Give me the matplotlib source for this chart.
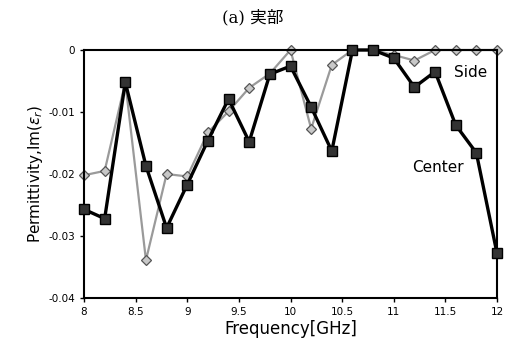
import matplotlib.pyplot as plt

plt.rcParams['font.family'] = ['DejaVu Sans', 'Noto Sans CJK JP']

freq = [8.0, 8.2, 8.4, 8.6, 8.8, 9.0, 9.2, 9.4, 9.6, 9.8, 10.0,
        10.2, 10.4, 10.6, 10.8, 11.0, 11.2, 11.4, 11.6, 11.8, 12.0]
center = [-0.0257, -0.0272, -0.0052, -0.0187, -0.0287, -0.0217, -0.0146,
          -0.0079, -0.0148, -0.0039, -0.0026, -0.0092, -0.0163, 0.0, 0.0,
          -0.0013, -0.0060, -0.0035, -0.0121, -0.0166, -0.0328]
side = [-0.0202, -0.0195, -0.0052, -0.0339, -0.0200, -0.0204, -0.0133,
        -0.0099, -0.0061, -0.0038, 0.0, -0.0127, -0.0024, 0.0, 0.0,
        -0.0008, -0.0017, 0.0, 0.0, 0.0, 0.0]

xticks = [8, 8.5, 9, 9.5, 10, 10.5, 11, 11.5, 12]
xticklabels = ['8', '8.5', '9', '9.5', '10', '10.5', '11', '11.5', '12']
yticks = [0, -0.01, -0.02, -0.03, -0.04]
yticklabels = ['0', '-0.01', '-0.02', '-0.03', '-0.04']

fig = plt.figure(figsize=(5.09, 3.47), dpi=100)
ax = fig.add_axes([84/509, 1 - 298/347, 413/509, 248/347])

# Side: thin grey line with open diamonds
ax.plot(freq, side, color='#9a9a9a', lw=1.6, marker='D', ms=5,
        mfc='#c8c8c8', mec='#555555', mew=0.9, zorder=2, clip_on=False)
# Center: thick black line with dark squares
ax.plot(freq, center, color='black', lw=2.4, marker='s', ms=7,
        mfc='#333333', mec='black', mew=1.0, zorder=3, clip_on=False)

ax.text(11.74, -0.0037, 'Side', fontsize=11, ha='center', va='center')
ax.text(11.43, -0.0190, 'Center', fontsize=11, ha='center', va='center')

ax.set_xlim(8, 12)
ax.set_ylim(-0.04, 0)
ax.set_xticks(xticks)
ax.set_xticklabels(xticklabels)
ax.set_yticks(yticks)
ax.set_yticklabels(yticklabels)
ax.tick_params(labelsize=7.5, length=3, width=1, direction='out')
for s in ax.spines.values():
    s.set_linewidth(1.5)

ax.set_xlabel('Frequency[GHz]', fontsize=12, labelpad=2)
ax.set_ylabel(r'Permittivity,Im($\varepsilon_r$)', fontsize=11, labelpad=2)
fig.text(253/509, 1 - 18/347, '(a) 実部', fontsize=12, ha='center', va='center',
         family=['DejaVu Serif', 'Noto Sans CJK JP'])

fig.savefig('out.png', dpi=100)
